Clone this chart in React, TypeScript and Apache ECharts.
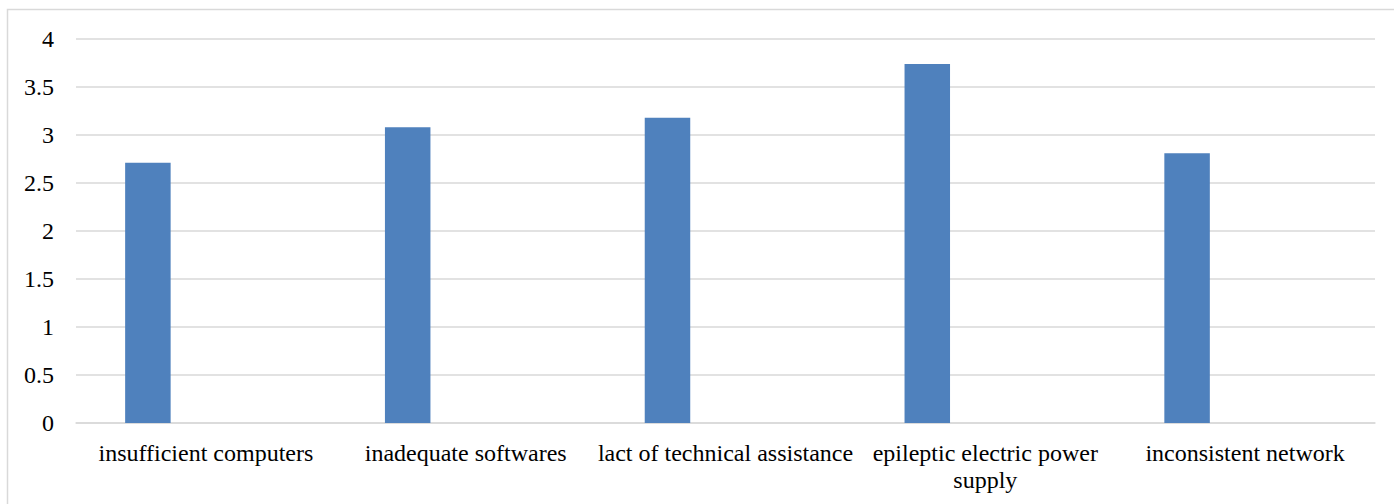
import React, { useEffect, useRef } from "react";
import * as echarts from "echarts";

const categories = [
  "insufficient computers",
  "inadequate softwares",
  "lact of technical assistance",
  "epileptic electric power\nsupply",
  "inconsistent network",
];
const values = [2.71, 3.08, 3.18, 3.74, 2.81];
const emptyValues = [null, null, null, null, null];
const yMin = 0;
const yMax = 4;
const yStep = 0.5;

const FONT = "Liberation Serif";

export default function App() {
  const ref = useRef<HTMLDivElement>(null);
  useEffect(() => {
    document.body.style.margin = "0";
    const chart = echarts.init(ref.current!, undefined, { renderer: "svg" });
    chart.setOption({
      animation: false,
      backgroundColor: "#ffffff",
      grid: { left: 76, right: 19, top: 39, bottom: 81, containLabel: false },
      graphic: [
        {
          type: "rect",
          silent: true,
          shape: { x: 7.5, y: 9.5, width: 1400, height: 520 },
          style: { fill: "none", stroke: "#d9d9d9", lineWidth: 1.5 },
        },
      ],
      xAxis: {
        type: "category",
        data: categories,
        axisLine: { show: true, lineStyle: { color: "#d9d9d9", width: 1.5 } },
        axisTick: { show: false },
        axisLabel: {
          color: "#000000",
          fontFamily: FONT,
          fontSize: 24,
          lineHeight: 27,
          margin: 16,
          interval: 0,
        },
      },
      yAxis: {
        type: "value",
        min: yMin,
        max: yMax,
        interval: yStep,
        axisLine: { show: false },
        axisTick: { show: false },
        splitLine: { lineStyle: { color: "#d9d9d9", width: 1.5 } },
        axisLabel: {
          color: "#000000",
          fontFamily: FONT,
          fontSize: 24,
          margin: 22,
        },
      },
      series: [
        {
          type: "bar",
          data: values,
          barWidth: 45.5,
          barGap: "155%",
          itemStyle: { color: "#4f81bd" },
        },
        {
          type: "bar",
          data: emptyValues,
          barWidth: 45.5,
          itemStyle: { color: "#c0504d" },
        },
      ],
    });
    return () => chart.dispose();
  }, []);
  return <div ref={ref} style={{ width: 1394, height: 504 }} />;
}
